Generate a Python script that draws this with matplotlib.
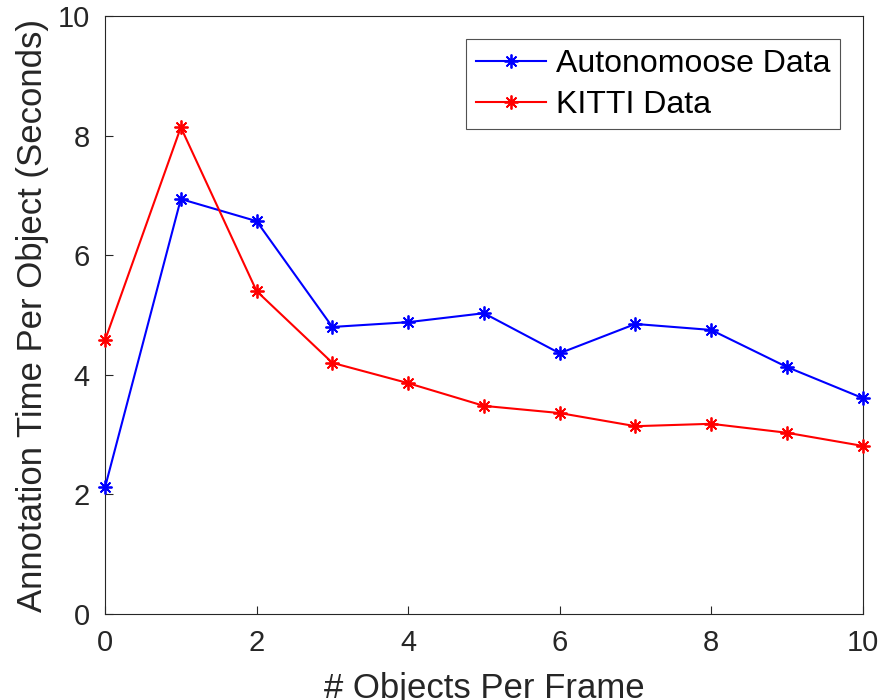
import numpy as np
import matplotlib
matplotlib.use("Agg")
import matplotlib.pyplot as plt

plt.rcParams['font.family'] = ['Liberation Sans', 'DejaVu Sans']

objects = np.arange(0, 11)
autonomoose = [2.12, 6.94, 6.57, 4.80, 4.88, 5.03, 4.36, 4.85, 4.75, 4.13, 3.61]
kitti = [4.58, 8.14, 5.40, 4.20, 3.86, 3.48, 3.36, 3.14, 3.18, 3.03, 2.81]

axcol = '#262626'
star = (8, 2, 0)

fig = plt.figure(figsize=(8.83, 7), dpi=100)
ax = fig.add_axes([0.119, 0.123, 0.858, 0.854])

ax.plot(objects, autonomoose, color='#0000ff', marker=star, markersize=10,
        markeredgewidth=1.3, linewidth=1.5, label='Autonomoose Data',
        clip_on=False, zorder=3)
ax.plot(objects, kitti, color='#ff0000', marker=star, markersize=10,
        markeredgewidth=1.3, linewidth=1.5, label='KITTI Data',
        clip_on=False, zorder=3)

ax.set_xlim(0, 10)
ax.set_ylim(0, 10)
ax.set_xticks(np.arange(0, 11, 2))
ax.set_yticks(np.arange(0, 11, 2))
ax.tick_params(direction='in', length=6, width=0.8, colors=axcol,
               labelsize=21, pad=11)
for s in ax.spines.values():
    s.set_color(axcol)
    s.set_linewidth(0.8)

ax.set_xlabel('# Objects Per Frame', fontsize=25, color=axcol, labelpad=11)
ax.set_ylabel('Annotation Time Per Object (Seconds)', fontsize=25,
              color=axcol, labelpad=6)

leg = ax.legend(loc='upper right', fontsize=23, frameon=True, fancybox=False,
                borderpad=0.3, handlelength=2.2, handletextpad=0.3,
                labelspacing=0.35, borderaxespad=0.72)
leg.get_frame().set_edgecolor(axcol)
leg.get_frame().set_linewidth(0.8)

fig.savefig('out.png', dpi=100)
